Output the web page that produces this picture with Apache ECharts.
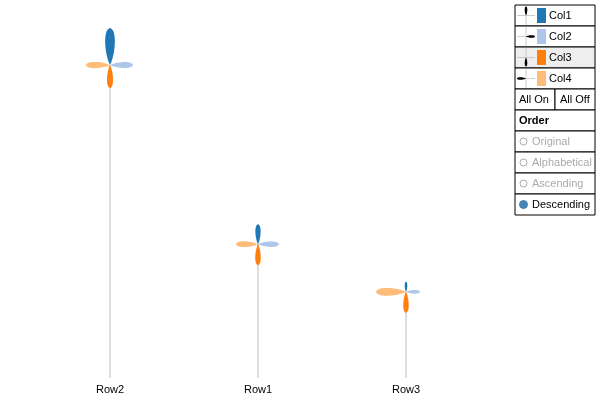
<!DOCTYPE html>
<html><head><meta charset="utf-8">
<script src="https://cdn.jsdelivr.net/npm/echarts@6/dist/echarts.min.js"></script>
<style>html,body{margin:0;padding:0;background:#fff}#c{width:600px;height:400px}</style>
</head><body><div id="c"></div>
<script>
var rows = ['Row2','Row1','Row3'];
var stemHeights = [82.8, 35.4, 22.8];
var col1 = [37, 20, 10];
var col2 = [23, 21, 14];
var col3 = [23, 21, 21];
var col4 = [24, 22, 30];
var cols = ['Col1','Col2','Col3','Col4'];
var colors = ['#1f77b4','#aec7e8','#ff7f0e','#ffbb78'];
var orderLabels = ['Original','Alphabetical','Ascending','Descending'];
var dirs = [[0,-1],[1,0],[0,1],[-1,0]];

function petalPoints(cx, cy, d, L, W) {
  var px = -d[1], py = d[0];
  function pt(a, b) { return [cx + d[0]*a + px*b, cy + d[1]*a + py*b]; }
  function bez(p0, p1, p2, p3, out) {
    for (var i = 0; i <= 16; i++) {
      var t = i/16, u = 1-t;
      out.push([u*u*u*p0[0]+3*u*u*t*p1[0]+3*u*t*t*p2[0]+t*t*t*p3[0],
                u*u*u*p0[1]+3*u*u*t*p1[1]+3*u*t*t*p2[1]+t*t*t*p3[1]]);
    }
  }
  var pts = [];
  bez(pt(0,0), pt(0.25*L,0.45*W), pt(0.95*L,0.7*W), pt(L,0), pts);
  bez(pt(L,0), pt(0.95*L,-0.7*W), pt(0.25*L,-0.45*W), pt(0,0), pts);
  return pts;
}

var data = rows.map(function (r, i) { return [i, stemHeights[i], col1[i], col2[i], col3[i], col4[i]]; });

var chart = echarts.init(document.getElementById('c'));
var g = [];
var LX = 515, LW = 80, RH = 21, LY = 5;
function txt(x, y, t, c, bold) {
  return {type:'text', x:x, y:y, style:{text:t, fill:c||'#000', font:(bold?'bold ':'')+'11px Arial, "Liberation Sans", sans-serif', verticalAlign:'middle'}};
}
cols.forEach(function (c, i) {
  var y = LY + i*RH;
  g.push({type:'rect', shape:{x:LX, y:y, width:LW, height:RH}, style:{fill: i===2?'#eeeeee':'#fff', stroke:'#000', lineWidth:1}});
  var cx = 526, cy = y + RH/2;
  g.push({type:'line', shape:{x1:517,y1:cy,x2:535,y2:cy}, style:{stroke:'#ccc', lineWidth:1}});
  g.push({type:'line', shape:{x1:cx,y1:y+1,x2:cx,y2:y+RH-1}, style:{stroke:'#ccc', lineWidth:1}});
  g.push({type:'polygon', shape:{points: petalPoints(cx, cy, dirs[i], 9, 3)}, style:{fill:'#000'}});
  g.push({type:'rect', shape:{x:537, y:y+3, width:9, height:RH-6}, style:{fill:colors[i]}});
  g.push(txt(549, cy, c));
});
var y4 = LY + 4*RH;
g.push({type:'rect', shape:{x:LX, y:y4, width:40, height:RH}, style:{fill:'#fff', stroke:'#000'}});
g.push({type:'rect', shape:{x:LX+40, y:y4, width:40, height:RH}, style:{fill:'#fff', stroke:'#000'}});
g.push(txt(519, y4+RH/2, 'All On'));
g.push(txt(560, y4+RH/2, 'All Off'));
var y5 = LY + 5*RH;
g.push({type:'rect', shape:{x:LX, y:y5, width:LW, height:RH}, style:{fill:'#fff', stroke:'#000'}});
g.push(txt(519, y5+RH/2, 'Order', '#000', true));
orderLabels.forEach(function (o, i) {
  var y = LY + (6+i)*RH, sel = i === 3;
  g.push({type:'rect', shape:{x:LX, y:y, width:LW, height:RH}, style:{fill:'#fff', stroke:'#000'}});
  g.push({type:'circle', shape:{cx:523.5, cy:y+RH/2, r:sel?4:3.5}, style:{fill:sel?'#4682b4':'#fff', stroke:sel?'#4682b4':'#aaa', lineWidth:1}});
  g.push(txt(532, y+RH/2, o, sel?'#000':'#aaa'));
});

chart.setOption({
  animation:false,
  grid:{left:36, right:120, top:0, bottom:22},
  xAxis:{type:'category', data:rows, axisLine:{show:false}, axisTick:{show:false},
    axisLabel:{color:'#000', fontSize:11, fontFamily:'Arial, "Liberation Sans", sans-serif', margin:6}},
  yAxis:{type:'value', min:0, max:100, show:false, splitLine:{show:false}},
  graphic: g,
  series:[{
    type:'custom', data:data,
    renderItem:function (params, api) {
      var base = api.coord([api.value(0), 0]);
      var top = api.coord([api.value(0), api.value(1)]);
      var ch = [{type:'line', shape:{x1:base[0], y1:base[1], x2:top[0], y2:top[1]}, style:{stroke:'#bbb', lineWidth:1}}];
      for (var k = 0; k < 4; k++) {
        var L = api.value(2+k);
        ch.push({type:'polygon', shape:{points: petalPoints(top[0], top[1], dirs[k], L, L*0.3)}, style:{fill:colors[k]}});
      }
      return {type:'group', children:ch};
    }
  }]
});
</script></body></html>
